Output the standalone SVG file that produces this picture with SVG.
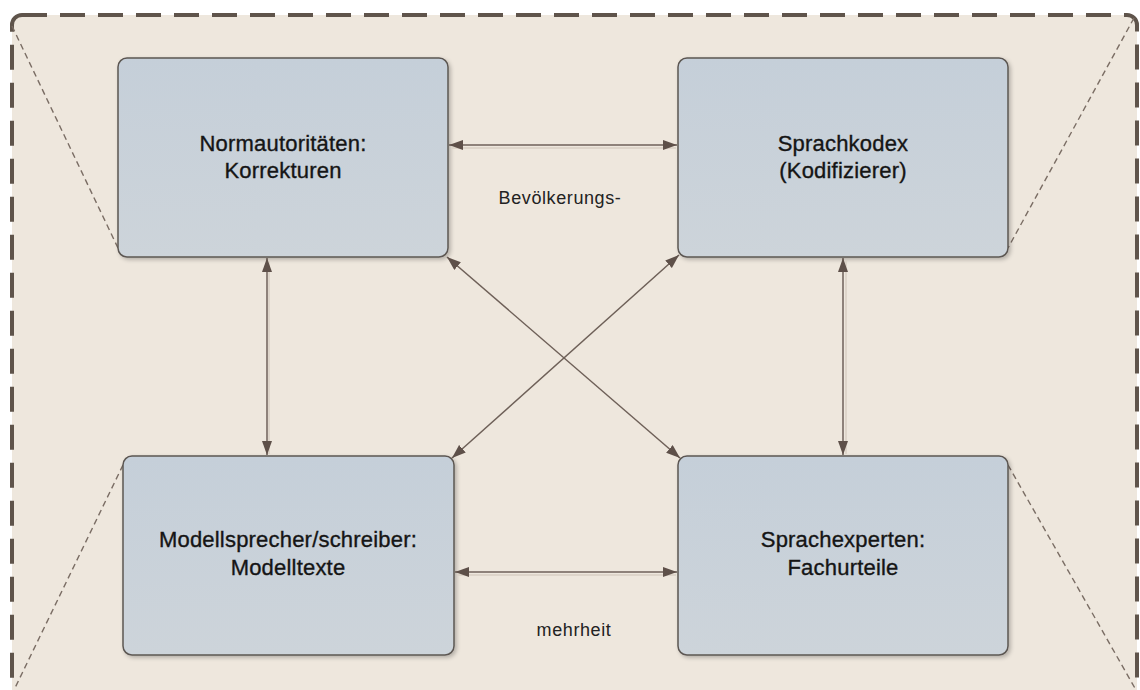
<svg xmlns="http://www.w3.org/2000/svg" width="1140" height="690" viewBox="0 0 1140 690">
<defs>
<style>
.frame{fill:#EEE7DD;stroke:#5F544B;stroke-width:4;stroke-dasharray:25 13}
.trap{fill:none;stroke:#7A6D64;stroke-width:1.4;stroke-dasharray:6 4}
.box{fill:url(#bg);stroke:#5C5752;stroke-width:1.5}
.lbl{font-family:"Liberation Sans",Arial,sans-serif;font-size:22px;fill:#151515;stroke:#151515;stroke-width:0.35;text-anchor:middle;letter-spacing:0.2px}
.side{font-family:"Liberation Sans",Arial,sans-serif;font-size:18px;fill:#222;text-anchor:middle;letter-spacing:0.6px}
.con{fill:none;stroke:#6E6058;stroke-width:1.5;marker-start:url(#ah);marker-end:url(#ah)}
.shd{fill:none;stroke:#D8CFC3;stroke-width:1.5}
</style>
<linearGradient id="bg" x1="0" y1="0" x2="0" y2="1">
<stop offset="0" stop-color="#C5CFD9"/>
<stop offset="1" stop-color="#CDD4DA"/>
</linearGradient>
<filter id="ds" x="-5%" y="-5%" width="112%" height="115%">
<feGaussianBlur in="SourceAlpha" stdDeviation="2"/>
<feOffset dx="2" dy="2"/>
<feComponentTransfer><feFuncA type="linear" slope="0.25"/></feComponentTransfer>
<feMerge><feMergeNode/><feMergeNode in="SourceGraphic"/></feMerge>
</filter>
<marker id="ah" viewBox="0 0 14 10" refX="14" refY="5" markerWidth="14" markerHeight="10" markerUnits="userSpaceOnUse" orient="auto-start-reverse">
<path d="M0,0 L14,5 L0,10 z" fill="#5E5049"/>
</marker>
</defs>
<rect x="0" y="0" width="1140" height="690" fill="#FFFFFF"/>
<rect class="frame" x="12" y="15" width="1125" height="700" rx="10"/>
<g id="frame-lines">
<line class="trap" x1="12" y1="26" x2="118" y2="248"/>
<line class="trap" x1="1134" y1="18" x2="1008" y2="248"/>
<line class="trap" x1="123" y1="465" x2="14" y2="690"/>
<line class="trap" x1="1008" y1="465" x2="1136" y2="690"/>
</g>
<g id="node-normautoritaeten">
<rect class="box" x="118" y="58" width="330" height="199" rx="9" filter="url(#ds)"/>
<text class="lbl" x="283" y="151">Normautoritäten:</text>
<text class="lbl" x="283" y="178">Korrekturen</text>
</g>
<g id="node-sprachkodex">
<rect class="box" x="678" y="58" width="330" height="199" rx="9" filter="url(#ds)"/>
<text class="lbl" x="843" y="151">Sprachkodex</text>
<text class="lbl" x="843" y="178">(Kodifizierer)</text>
</g>
<g id="node-modellsprecher">
<rect class="box" x="123" y="456" width="331" height="199" rx="9" filter="url(#ds)"/>
<text class="lbl" x="288" y="547">Modellsprecher/schreiber:</text>
<text class="lbl" x="288" y="575">Modelltexte</text>
</g>
<g id="node-sprachexperten">
<rect class="box" x="678" y="456" width="330" height="199" rx="9" filter="url(#ds)"/>
<text class="lbl" x="843" y="547">Sprachexperten:</text>
<text class="lbl" x="843" y="575">Fachurteile</text>
</g>
<g id="connectors">
<line class="shd" x1="452" y1="148" x2="676" y2="148"/>
<line class="shd" x1="457" y1="575" x2="676" y2="575"/>
<line class="shd" x1="269" y1="260" x2="269" y2="454"/>
<line class="shd" x1="846" y1="260" x2="846" y2="454"/>
<line class="con" x1="449" y1="145" x2="677" y2="145"/>
<line class="con" x1="455" y1="572" x2="677" y2="572"/>
<line class="con" x1="267" y1="258" x2="267" y2="455"/>
<line class="con" x1="843" y1="258" x2="843" y2="455"/>
<line class="con" x1="447" y1="257" x2="680" y2="458"/>
<line class="con" x1="679" y1="255" x2="452" y2="458"/>
</g>
<g id="labels">
<text class="side" x="560" y="204">Bevölkerungs-</text>
<text class="side" x="574" y="636">mehrheit</text>
</g>
</svg>
